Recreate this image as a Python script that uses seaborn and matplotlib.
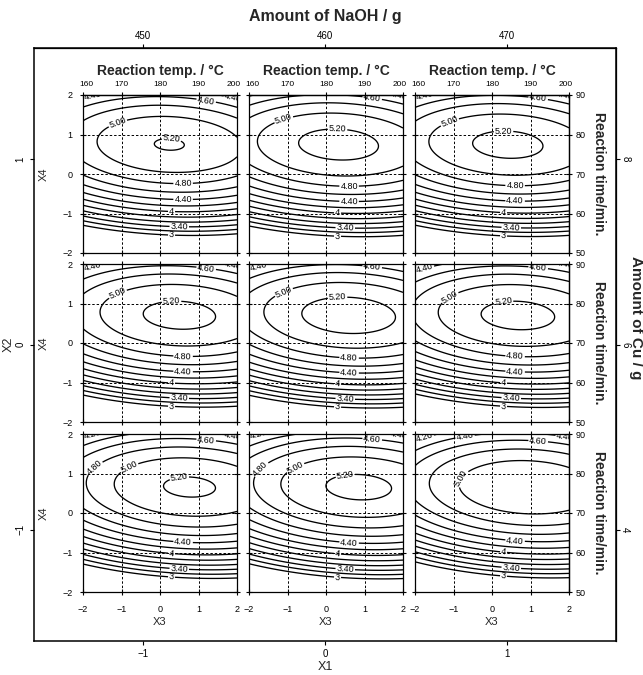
import numpy as np
import matplotlib
matplotlib.use("Agg")
import matplotlib.pyplot as plt
import matplotlib.transforms as mtransforms
import seaborn as sns

# ---------------- data ----------------
x1_values = [-1, 0, 1]            # panel columns (coded NaOH amount)
x2_values = [1, 0, -1]            # panel rows (coded Cu amount)
outer_ticks = [-1, 0, 1]
naoh_ticks = [450, 460, 470]
cu_ticks = [4, 6, 8]
coded_ticks = [-2, -1, 0, 1, 2]
temp_ticks = [160, 170, 180, 190, 200]
time_ticks = [50, 60, 70, 80, 90]

# estimated second-order response-surface coefficients
b0 = 5.048
b_lin = [-0.005, 0.007, 0.093, 0.607]           # X1..X4
b_quad = [-0.035, -0.039, -0.060, -0.420]       # X1^2..X4^2
b_int = {(1, 2): 0.022, (1, 3): 0.010, (1, 4): 0.0,
         (2, 3): -0.030, (2, 4): 0.030, (3, 4): -0.032}

contour_levels = [3.0, 3.2, 3.4, 3.6, 3.8, 4.0, 4.2, 4.4, 4.6, 4.8, 5.0, 5.2]
integer_labelled = [3.0, 4.0]     # these levels are printed without decimals

# label placements: (level, x3, approx x4)
labels_top_rows = [(5.2, 0.3, 0.9), (5.0, -1.1, 0.95), (4.6, 1.2, 1.85),
                   (4.4, -1.75, 1.9), (4.4, 1.9, 1.9),
                   (4.8, 0.6, -0.35), (4.4, 0.6, -0.75), (4.0, 0.3, -1.05),
                   (3.4, 0.5, -1.45), (3.0, 0.3, -1.65)]
labels_bottom_row = [(5.2, 0.5, 0.9), (5.0, -0.8, 1.1), (4.8, -1.7, 1.5),
                     (4.6, 1.2, 1.85), (4.4, -0.7, 1.9), (4.2, -1.75, 1.95),
                     (4.4, 1.9, 1.9), (4.4, 0.6, -0.6), (4.0, 0.3, -1.0),
                     (3.4, 0.5, -1.45), (3.0, 0.3, -1.65)]


def response(x1, x2, x3, x4):
    xs = [x1, x2, x3, x4]
    z = b0
    for i in range(4):
        z = z + b_lin[i] * xs[i] + b_quad[i] * xs[i] ** 2
    for (i, j), b in b_int.items():
        z = z + b * xs[i - 1] * xs[j - 1]
    return z


label_fmt = {lev: (f"{lev:.0f}" if lev in integer_labelled else f"{lev:.2f}")
             for lev in contour_levels}


def minus(v):
    return str(v).replace('-', '\u2212')


# ---------------- style ----------------
sns.set_theme(style="ticks")
plt.rcParams['font.family'] = ['Liberation Sans', 'DejaVu Sans']
plt.rcParams['axes.edgecolor'] = 'black'
plt.rcParams['xtick.color'] = 'black'
plt.rcParams['ytick.color'] = 'black'
plt.rcParams['axes.linewidth'] = 0.9

W, H = 643, 675
fig = plt.figure(figsize=(W / 100, H / 100), dpi=100)


def rect(l, t, w, h):
    return [l / W, 1 - (t + h) / H, w / W, h / H]


# ---------------- outer frame ----------------
ax0 = fig.add_axes(rect(34, 48, 582, 593))
ax0.set_facecolor('none')
ax0.set_xlim(-1.6, 1.6)
ax0.set_ylim(-1.6, 1.6)
ax0.set_xticks(outer_ticks)
ax0.set_xticklabels([minus(t) for t in outer_ticks])
ax0.set_yticks(outer_ticks)
ax0.set_yticklabels([minus(t) for t in outer_ticks], rotation=90, va='center')
ax0.tick_params(direction='out', length=3, width=0.8, labelsize=7, pad=3,
                top=True, right=True)
for s in ax0.spines.values():
    s.set_linewidth(1.1)
ax0.set_xlabel('X1', fontsize=9, labelpad=1)
ax0.set_ylabel('X2', fontsize=9, labelpad=1)

topx = ax0.secondary_xaxis('top', functions=(lambda v: naoh_ticks[1] + 10 * v,
                                              lambda t: (t - naoh_ticks[1]) / 10))
topx.set_xticks(naoh_ticks)
topx.tick_params(length=0, labelsize=7, pad=5)
topx.set_xlabel('Amount of NaOH / g', fontweight='bold', fontsize=11.5, labelpad=7)

righty = ax0.secondary_yaxis('right', functions=(lambda v: cu_ticks[1] + 2 * v,
                                                  lambda c: (c - cu_ticks[1]) / 2))
righty.set_yticks(cu_ticks)
righty.set_yticklabels([str(c) for c in cu_ticks], rotation=-90, va='center')
righty.tick_params(length=0, labelsize=7, pad=3)
fig.text(636 / W, 1 - 318 / H, 'Amount of Cu / g', rotation=-90, fontweight='bold',
         fontsize=11, ha='center', va='center')

# ---------------- panels ----------------
col_left = [83, 249, 415]
row_top = [95, 264, 434]
pw, ph = 154, 158

g = np.linspace(-2, 2, 241)
X3, X4 = np.meshgrid(g, g)


def on_contour(Z, lev, lx, ly):
    j = int(np.argmin(np.abs(g - lx)))
    col = Z[:, j] - lev
    idx = np.where(np.sign(col[:-1]) != np.sign(col[1:]))[0]
    if len(idx) == 0:
        return None
    ys = [g[i] + (g[i + 1] - g[i]) * col[i] / (col[i] - col[i + 1]) for i in idx]
    y = min(ys, key=lambda v: abs(v - ly))
    if abs(y - ly) > 0.45:
        return None
    return (g[j], y)


for r, x2 in enumerate(x2_values):
    for c, x1 in enumerate(x1_values):
        ax = fig.add_axes(rect(col_left[c], row_top[r], pw, ph))
        ax.set_facecolor('white')
        Z = response(x1, x2, X3, X4)
        for gl in outer_ticks:
            ax.axvline(gl, color='black', lw=0.7, ls=(0, (2.5, 2)), zorder=1)
            ax.axhline(gl, color='black', lw=0.7, ls=(0, (2.5, 2)), zorder=1)
        cs = ax.contour(X3, X4, Z, levels=contour_levels, colors='black',
                        linewidths=0.95, zorder=2)
        ax.set_xlim(-2, 2)
        ax.set_ylim(-2, 2)
        specs = labels_bottom_row if r == 2 else labels_top_rows
        pts = []
        for lev, lx, ly in specs:
            p = on_contour(Z, lev, lx, ly)
            if p is not None:
                pts.append(p)
        if pts:
            try:
                ax.clabel(cs, manual=pts, fmt=label_fmt, fontsize=6.5, inline=True,
                          inline_spacing=1, colors='black')
            except Exception:
                pass
        ax.set_xticks(coded_ticks)
        ax.set_yticks(coded_ticks)
        ax.set_xticklabels([minus(t) for t in coded_ticks])
        ax.set_yticklabels([minus(t) for t in coded_ticks])
        ax.tick_params(direction='inout', length=5, width=0.8, labelsize=6.5,
                       top=True, right=True,
                       labelleft=(c == 0), labelbottom=(r == 2))
        ax.tick_params(axis='x', pad=7)
        ax.tick_params(axis='y', pad=5)
        if c == 0:
            ax.set_ylabel('X4', fontsize=8, labelpad=10)
        if r == 2:
            ax.set_xlabel('X3', fontsize=8, labelpad=2)
        if r == 0:
            sx = ax.secondary_xaxis('top', functions=(lambda v: temp_ticks[2] + 10 * v,
                                                       lambda t: (t - temp_ticks[2]) / 10))
            sx.set_xticks(temp_ticks)
            sx.tick_params(length=0, labelsize=6, pad=5)
            labs = sx.get_xticklabels()
            labs[0].set_transform(labs[0].get_transform() +
                                  mtransforms.ScaledTranslation(3 / 100, 0, fig.dpi_scale_trans))
            labs[-1].set_transform(labs[-1].get_transform() +
                                   mtransforms.ScaledTranslation(-3 / 100, 0, fig.dpi_scale_trans))
            sx.set_xlabel('Reaction temp. / °C', fontweight='bold', fontsize=10,
                          labelpad=4)
        if c == 2:
            sy = ax.secondary_yaxis('right', functions=(lambda v: time_ticks[2] + 10 * v,
                                                         lambda t: (t - time_ticks[2]) / 10))
            sy.set_yticks(time_ticks)
            sy.tick_params(length=0, labelsize=6.5, pad=5)
            sy.set_ylabel('Reaction time/min.', rotation=-90, fontweight='bold',
                          fontsize=10, labelpad=4, va='bottom')

fig.savefig('out.png', dpi=100)
